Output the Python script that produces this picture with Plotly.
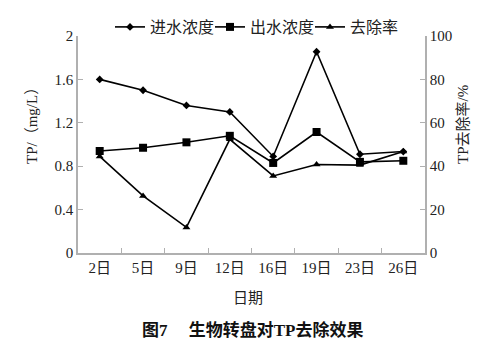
import plotly.graph_objects as go

dates = ["2日", "5日", "9日", "12日", "16日", "19日", "23日", "26日"]
influent = [1.60, 1.50, 1.36, 1.30, 0.89, 1.855, 0.91, 0.935]
effluent = [0.94, 0.97, 1.02, 1.08, 0.83, 1.115, 0.84, 0.85]
removal = [44.5, 26.3, 11.8, 52.4, 35.5, 40.8, 40.5, 46.8]

FONT = "Liberation Serif, Times New Roman, Noto Sans CJK SC"
AX = "#b0b0b0"

fig = go.Figure()
fig.add_trace(go.Scatter(x=dates, y=influent, name="进水浓度", mode="lines+markers",
                         line=dict(color="black", width=1.6),
                         marker=dict(symbol="diamond", size=6, color="black")))
fig.add_trace(go.Scatter(x=dates, y=effluent, name="出水浓度", mode="lines+markers",
                         line=dict(color="black", width=1.6),
                         marker=dict(symbol="square", size=8, color="black")))
fig.add_trace(go.Scatter(x=dates, y=removal, name="去除率", mode="lines+markers", yaxis="y2",
                         line=dict(color="black", width=1.6),
                         marker=dict(symbol="triangle-up", size=7, color="black")))

W, H = 491, 354
l, r, t, b = 78, 66, 36, 101
pw, ph = W - l - r, H - t - b


def ann(text, px, py, angle=0, **font):
    f = dict(size=15)
    f.update(font)
    return dict(text=text, x=(px - l) / pw, y=(H - b - py) / ph, xref="paper", yref="paper",
                xanchor="center", yanchor="middle", showarrow=False, textangle=angle, font=f)


fig.update_layout(
    width=W, height=H,
    margin=dict(l=l, r=r, t=t, b=b, autoexpand=False),
    paper_bgcolor="white", plot_bgcolor="white",
    font=dict(family=FONT, size=15, color="#222"),
    showlegend=True,
    legend=dict(orientation="h", x=110 / W, xanchor="left", y=1 - 10 / H, yanchor="top",
                yref="container", xref="container", font=dict(size=16), itemwidth=30,
                entrywidth=55, bgcolor="rgba(0,0,0,0)", tracegroupgap=0),
    xaxis=dict(type="category", range=[-0.5, 7.5], showline=True, linecolor=AX, linewidth=1.5,
               ticks="inside", ticklen=5, tickcolor=AX, tickson="boundaries",
               showgrid=False, zeroline=False, mirror=False,
               tickfont=dict(size=15)),
    yaxis=dict(range=[0, 2], dtick=0.4, showline=True, linecolor=AX, linewidth=1.5,
               ticks="inside", ticklen=5, tickcolor=AX, showgrid=False, zeroline=False,
               tickfont=dict(size=15)),
    yaxis2=dict(range=[0, 100], dtick=20, overlaying="y", side="right", showline=True,
                linecolor=AX, linewidth=1.5, ticks="inside", ticklen=5, tickcolor=AX,
                showgrid=False, zeroline=False, tickfont=dict(size=15)),
    annotations=[
        ann("TP/（mg/L）", 32, 122, -90),
        ann("TP去除率/%", 463, 125, -90),
        ann("日期", 248, 298),
        ann("<b>图7　 生物转盘对TP去除效果</b>", 252, 330, size=17,
            family="Liberation Serif, Noto Sans CJK SC", color="#111"),
    ],
)

fig.write_html("out.html")
